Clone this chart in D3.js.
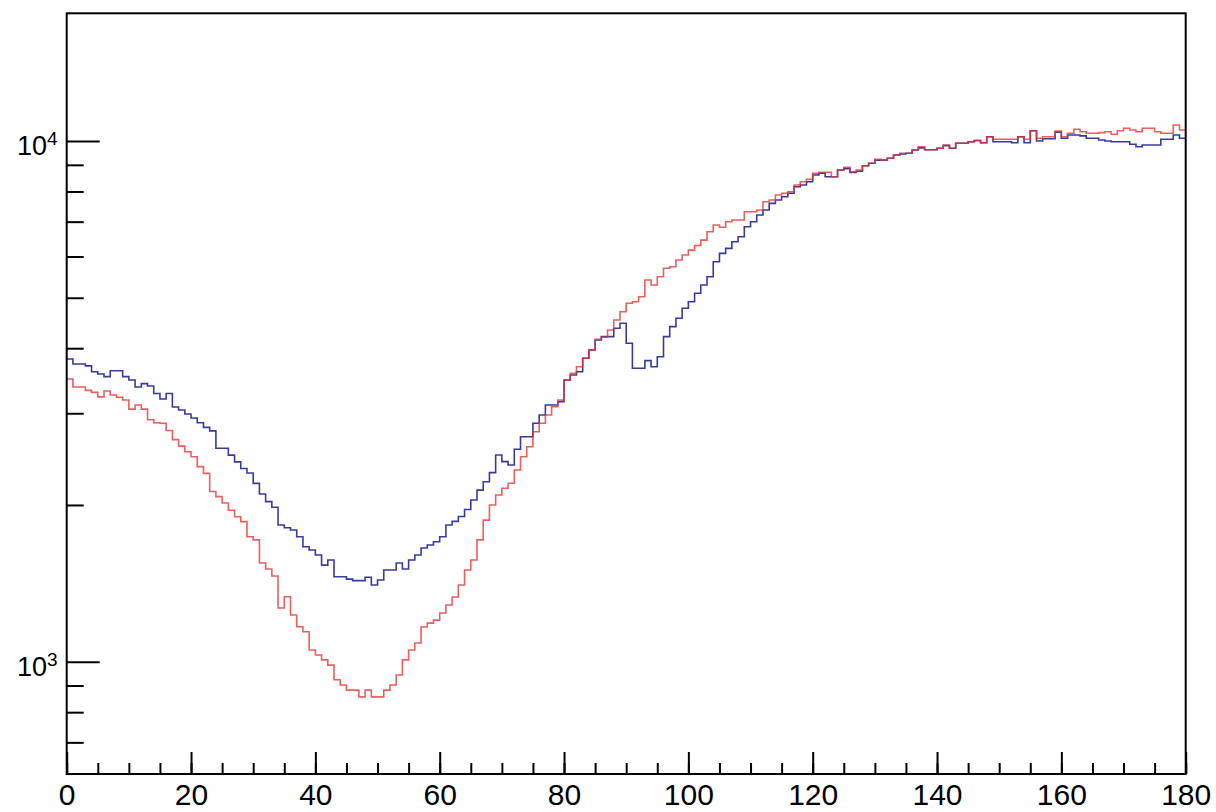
<!DOCTYPE html>
<html>
<head>
<meta charset="utf-8">
<script src="https://cdn.jsdelivr.net/npm/d3@7"></script>
<style>
  html, body { margin: 0; padding: 0; background: #fff; }
  svg { display: block; }
  text { font-family: "Liberation Sans", Arial, Helvetica, sans-serif; fill: #000; }
</style>
</head>
<body>
<svg id="chart" width="1216" height="812"></svg>
<script>
// ---- data (1-degree bins, 0..180) ----
const binEdgesStart = 0;
const binWidth = 1;
const blueCounts = [
  3814,3730,3730,3700,3605,3568,3527,3620,3620,3527,
  3475,3370,3420,3385,3275,3196,3275,3084,3044,2990,
  2938,2877,2818,2775,2570,2570,2493,2420,2350,2303,
  2200,2100,2030,1980,1830,1808,1790,1738,1663,1639,
  1603,1533,1568,1456,1456,1441,1431,1431,1453,1404,
  1435,1500,1500,1547,1507,1568,1603,1653,1675,1700,
  1738,1830,1860,1900,1960,2044,2136,2216,2307,2495,
  2422,2387,2558,2705,2705,2870,2977,3112,3112,3158,
  3475,3553,3605,3826,3969,4149,4210,4210,4369,4467,
  4089,3660,3660,3786,3686,3853,4210,4400,4566,4772,
  4914,5100,5291,5488,5864,6085,6221,6405,6549,6845,
  6998,7209,7370,7591,7704,7816,7936,8170,8232,8353,
  8604,8670,8540,8540,8797,8850,8700,8750,8965,9063,
  9190,9190,9267,9400,9440,9472,9608,9700,9620,9620,
  9683,9800,9683,9899,9899,9970,10020,9925,10193,9969,
  9969,9969,9925,10193,9925,10466,10000,10100,10100,10400,
  10121,10268,10268,10228,10121,10121,10044,10000,9969,9969,
  9969,9855,9751,9825,9825,9825,10076,10076,10268,10121
];
const redCounts = [
  3490,3370,3370,3320,3290,3225,3310,3252,3220,3182,
  3056,3112,3056,2916,2877,2870,2780,2670,2594,2530,
  2476,2369,2300,2122,2075,2018,1954,1899,1858,1738,
  1714,1547,1507,1461,1268,1333,1229,1167,1142,1053,
  1030,1008,985,923,902,882,882,856,882,856,
  856,882,902,943,1008,1053,1086,1166,1186,1202,
  1240,1285,1331,1404,1500,1568,1714,1870,2000,2090,
  2153,2201,2334,2476,2588,2765,2870,2977,3088,3182,
  3475,3580,3686,3826,3969,4162,4199,4336,4531,4701,
  4879,4914,5023,5408,5291,5488,5695,5736,5908,6040,
  6173,6300,6452,6695,6896,6828,6998,7051,7051,7315,
  7315,7370,7645,7704,7876,7936,7991,8232,8353,8445,
  8670,8709,8709,8540,8797,8904,8730,8797,8965,9063,
  9224,9190,9267,9400,9472,9472,9608,9750,9620,9620,
  9683,9824,9683,9899,9899,9970,10020,9925,10193,10076,
  10076,10076,10076,10193,10076,10466,10121,10193,10193,10450,
  10193,10347,10531,10419,10347,10347,10380,10419,10301,10466,
  10578,10500,10419,10578,10578,10419,10347,10347,10731,10500
];
const xMajorTicks = [0,20,40,60,80,100,120,140,160,180];
const xMinorTicks = d3.range(0, 181, 5);
const yMajorTicks = [1000, 10000];
const yMajorLabels = [["10","3"],["10","4"]];
const yMinorTicks = [700,800,900,2000,3000,4000,5000,6000,7000,8000,9000];

// ---- layout ----
const svg = d3.select("#chart");
const L = 66.7, R = 1185.7, T = 13.3, B = 774;
const x = d3.scaleLinear().domain([0, 180]).range([L, R]);
const y = d3.scaleLog().domain([608.6, 17590]).range([B, T]);

function stepPoints(counts) {
  const pts = counts.map((v, i) => [binEdgesStart + i * binWidth, v]);
  pts.push([binEdgesStart + counts.length * binWidth, counts[counts.length - 1]]);
  return pts;
}
const line = d3.line().x(d => x(d[0])).y(d => y(d[1])).curve(d3.curveStepAfter);

const plot = svg.append("g");
plot.append("path").datum(stepPoints(blueCounts))
  .attr("d", line).attr("fill", "none")
  .attr("stroke", "#3a3a9e").attr("stroke-width", 1.6);
plot.append("path").datum(stepPoints(redCounts))
  .attr("d", line).attr("fill", "none")
  .attr("stroke", "#e63232").attr("stroke-opacity", 0.78).attr("stroke-width", 1.6);

// ---- axes (ROOT style: ticks inside) ----
const gx = svg.append("g").attr("transform", `translate(0,${B})`);
gx.call(d3.axisBottom(x).tickValues(xMinorTicks).tickSize(-11).tickFormat(""));
const gxM = svg.append("g").attr("transform", `translate(0,${B})`);
gxM.call(d3.axisBottom(x).tickValues(xMajorTicks).tickSize(-22).tickPadding(9).tickFormat(d3.format("d")));
[gx, gxM].forEach(g => {
  g.select(".domain").remove();
  g.selectAll(".tick line").attr("stroke", "#000").attr("stroke-width", 2);
});
gxM.selectAll(".tick text").attr("font-size", 30)
  .attr("font-family", "Liberation Sans, Arial, sans-serif")
  .attr("dy", null).attr("y", 31).attr("fill", "#000");

const gy = svg.append("g").attr("transform", `translate(${L},0)`);
gy.call(d3.axisRight(y).tickValues(yMinorTicks).tickSize(17).tickFormat(""));
const gyM = svg.append("g").attr("transform", `translate(${L},0)`);
gyM.call(d3.axisRight(y).tickValues(yMajorTicks).tickSize(33).tickFormat(""));
[gy, gyM].forEach(g => {
  g.select(".domain").remove();
  g.selectAll(".tick line").attr("stroke", "#000").attr("stroke-width", 2);
});

// y labels 10^n
const ylab = svg.append("g");
yMajorTicks.forEach((v, i) => {
  const t = ylab.append("text")
    .attr("x", L - 9).attr("y", y(v) + 14)
    .attr("text-anchor", "end").attr("font-size", 27);
  t.append("tspan").text(yMajorLabels[i][0]);
  t.append("tspan").attr("font-size", 19).attr("dy", -10).text(yMajorLabels[i][1]);
});

// frame
svg.append("rect").attr("x", L).attr("y", T)
  .attr("width", R - L).attr("height", B - T)
  .attr("fill", "none").attr("stroke", "#000").attr("stroke-width", 2);
</script>
</body>
</html>
